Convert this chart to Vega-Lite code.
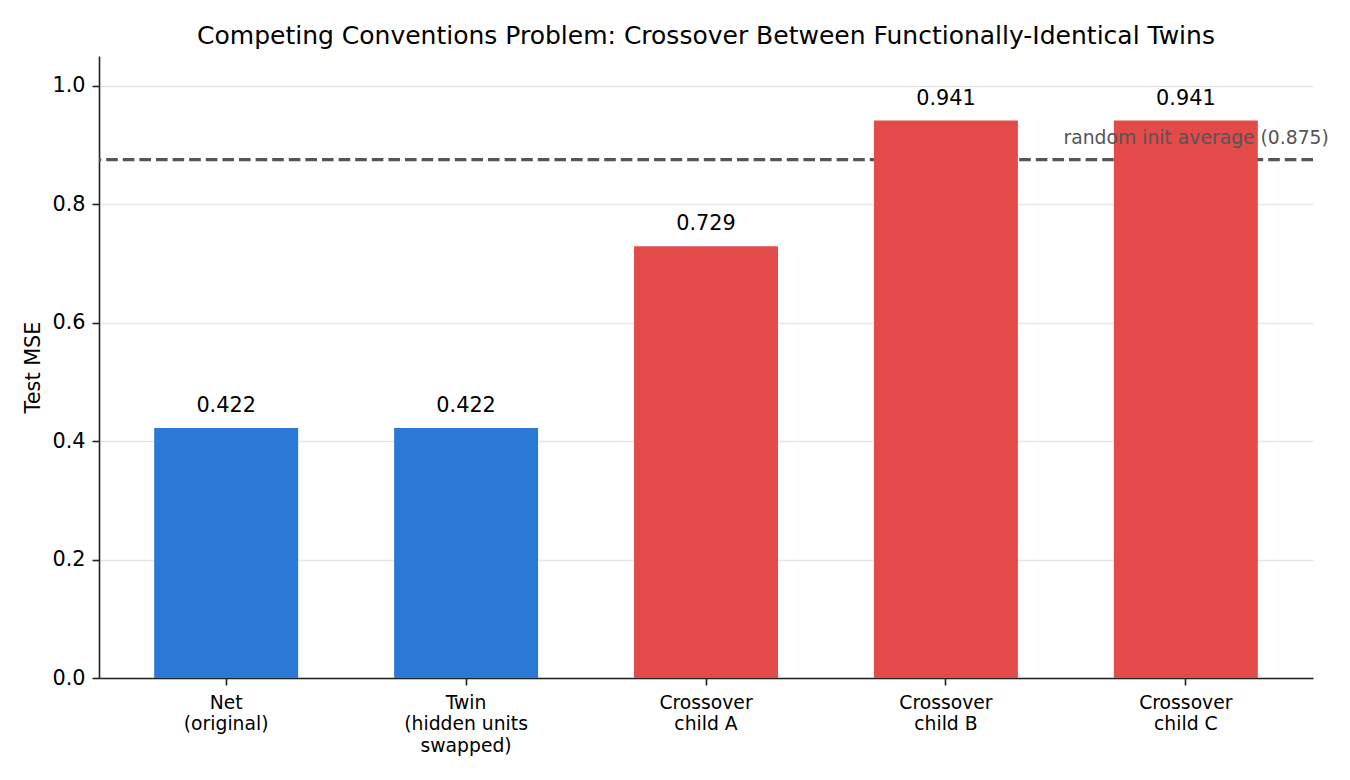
{
  "$schema": "https://vega.github.io/schema/vega-lite/v6.json",
  "width": 1214,
  "height": 622,
  "autosize": {"type": "none"},
  "padding": {"left": 99, "top": 56, "right": 37, "bottom": 102},
  "background": "white",
  "title": {
    "text": "Competing Conventions Problem: Crossover Between Functionally-Identical Twins",
    "font": "DejaVu Sans",
    "fontSize": 25,
    "fontWeight": "normal",
    "color": "#000000",
    "anchor": "middle",
    "offset": 7
  },
  "config": {
    "view": {"stroke": null},
    "font": "DejaVu Sans"
  },
  "datasets": {
    "bars": [
      {"label": "Net|(original)", "mse": 0.422, "group": "twin"},
      {"label": "Twin|(hidden units|swapped)", "mse": 0.422, "group": "twin"},
      {"label": "Crossover|child A", "mse": 0.729, "group": "crossover"},
      {"label": "Crossover|child B", "mse": 0.941, "group": "crossover"},
      {"label": "Crossover|child C", "mse": 0.941, "group": "crossover"}
    ],
    "ref": [
      {"label": "Crossover|child C", "mse": 0.875, "note": "random init average (0.875)"}
    ]
  },
  "layer": [
    {
      "data": {"name": "bars"},
      "mark": {"type": "bar", "opacity": 0},
      "encoding": {
        "x": {
          "field": "label", "type": "nominal", "sort": null,
          "scale": {"paddingInner": 0.4, "paddingOuter": 0.23},
          "axis": {
            "title": null,
            "labelAngle": 0,
            "labelExpr": "split(datum.value, '|')",
            "labelFont": "DejaVu Sans",
            "labelFontSize": 18.75,
            "labelColor": "#000000",
            "labelLineHeight": 21.5,
            "labelBaseline": "top",
            "labelPadding": 8,
            "tickSize": 7,
            "tickWidth": 1.6,
            "tickColor": "#222222",
            "domainColor": "#222222",
            "domainWidth": 1.6,
            "grid": false
          }
        },
        "y": {
          "field": "mse", "type": "quantitative",
          "scale": {"domain": [0, 1.05], "nice": false, "zero": true},
          "axis": {
            "title": "Test MSE",
            "titleFont": "DejaVu Sans",
            "titleFontSize": 20.8,
            "titleFontWeight": "normal",
            "titleColor": "#000000",
            "titlePadding": 8,
            "values": [0, 0.2, 0.4, 0.6, 0.8, 1.0],
            "format": ".1f",
            "labelFont": "DejaVu Sans",
            "labelFontSize": 20.8,
            "labelColor": "#000000",
            "labelPadding": 7,
            "tickSize": 7,
            "tickWidth": 1.6,
            "tickColor": "#222222",
            "domainColor": "#222222",
            "domainWidth": 1.6,
            "grid": true,
            "gridColor": "#e6e6e6",
            "gridWidth": 1.5
          }
        }
      }
    },
    {
      "data": {"name": "ref"},
      "mark": {"type": "rule", "color": "#555555", "strokeWidth": 3.1, "strokeDash": [11.6, 5]},
      "encoding": {
        "y": {"field": "mse", "type": "quantitative"}
      }
    },
    {
      "data": {"name": "bars"},
      "mark": {"type": "bar"},
      "encoding": {
        "x": {"field": "label", "type": "nominal", "sort": null},
        "y": {"field": "mse", "type": "quantitative"},
        "color": {
          "field": "group", "type": "nominal",
          "scale": {"domain": ["twin", "crossover"], "range": ["#2b79d6", "#e34a4a"]},
          "legend": null
        }
      }
    },
    {
      "data": {"name": "bars"},
      "mark": {"type": "text", "font": "DejaVu Sans", "fontSize": 20.8, "color": "#000000", "baseline": "alphabetic", "dy": -16},
      "encoding": {
        "x": {"field": "label", "type": "nominal", "sort": null},
        "y": {"field": "mse", "type": "quantitative"},
        "text": {"field": "mse", "type": "quantitative", "format": ".3f"}
      }
    },
    {
      "data": {"name": "ref"},
      "mark": {"type": "text", "font": "DejaVu Sans", "fontSize": 18.75, "color": "#555555", "align": "right", "baseline": "alphabetic", "dx": 143, "dy": -15.5},
      "encoding": {
        "x": {"field": "label", "type": "nominal", "sort": null},
        "y": {"field": "mse", "type": "quantitative"},
        "text": {"field": "note"}
      }
    }
  ]
}
